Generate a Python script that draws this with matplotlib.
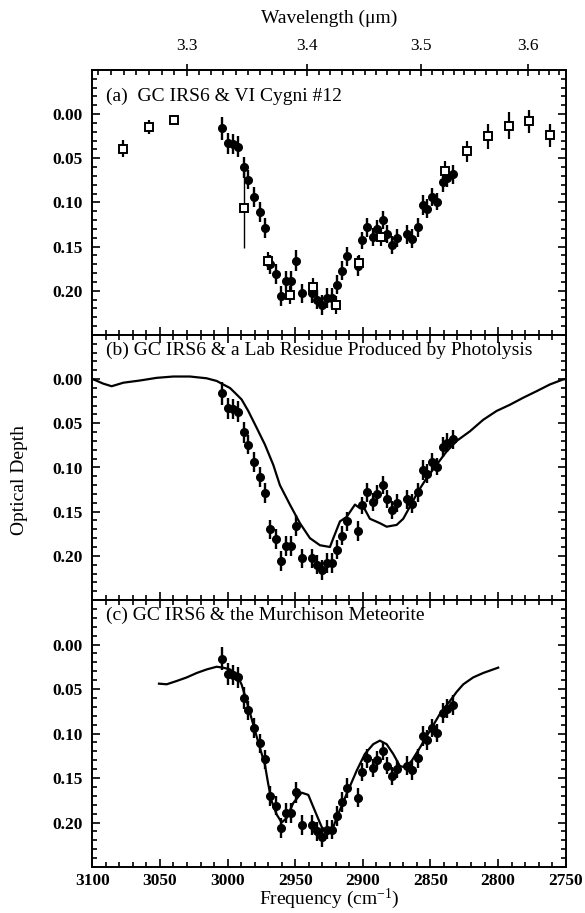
import numpy as np
import matplotlib
matplotlib.use("Agg")
import matplotlib.pyplot as plt
from matplotlib.ticker import MultipleLocator, NullFormatter

plt.rcParams['font.family'] = ['Liberation Serif', 'DejaVu Serif']
plt.rcParams['mathtext.fontset'] = 'custom'
plt.rcParams['mathtext.rm'] = 'Liberation Serif'
plt.rcParams['mathtext.it'] = 'Liberation Serif:italic'

# ---------------- data ----------------
# GC IRS6 (filled circles), frequency in cm^-1, optical depth
gc_freq = [3003.9, 2999.9, 2996.0, 2992.1, 2988.1, 2984.7, 2980.3, 2976.3, 2972.4,
           2968.4, 2964.5, 2960.5, 2957.1, 2953.1, 2949.7, 2945.2, 2937.8, 2934.1,
           2930.5, 2926.7, 2923.0, 2919.4, 2915.5, 2911.5, 2903.6, 2900.7, 2896.7,
           2892.8, 2889.4, 2885.4, 2882.0, 2878.3, 2874.6, 2867.2, 2863.5, 2859.5,
           2855.8, 2852.8, 2848.9, 2845.0, 2841.0, 2837.6, 2833.6]
gc_tau = [0.016, 0.033, 0.034, 0.037, 0.060, 0.074, 0.094, 0.111, 0.129,
          0.170, 0.181, 0.206, 0.189, 0.189, 0.166, 0.203, 0.203, 0.210,
          0.216, 0.208, 0.208, 0.193, 0.177, 0.161, 0.172, 0.143, 0.128,
          0.139, 0.130, 0.120, 0.136, 0.148, 0.140, 0.136, 0.141, 0.128,
          0.103, 0.107, 0.094, 0.099, 0.077, 0.072, 0.068]
gc_err = [0.013, 0.012, 0.011, 0.012, 0.012, 0.011, 0.011, 0.011, 0.011,
          0.011, 0.011, 0.011, 0.011, 0.011, 0.012, 0.011, 0.011, 0.011,
          0.011, 0.011, 0.011, 0.011, 0.011, 0.011, 0.011, 0.010, 0.011,
          0.010, 0.010, 0.010, 0.010, 0.010, 0.010, 0.011, 0.011, 0.011,
          0.011, 0.011, 0.010, 0.010, 0.011, 0.011, 0.011]

# VI Cygni #12 (open squares)
cyg_freq = [3077.1, 3058.1, 3039.6, 2987.7, 2970.4, 2953.9, 2936.7, 2919.6,
            2902.9, 2886.9, 2839.3, 2823.3, 2807.3, 2791.8, 2777.0, 2761.7]
cyg_tau = [0.039, 0.015, 0.0065, 0.106, 0.166, 0.2045, 0.196, 0.216,
           0.168, 0.139, 0.064, 0.042, 0.025, 0.013, 0.008, 0.024]
cyg_err = [0.010, 0.008, 0.005, 0.046, 0.010, 0.010, 0.010, 0.010,
           0.009, 0.010, 0.011, 0.012, 0.014, 0.015, 0.013, 0.013]

# Lab residue produced by photolysis (panel b line)
lab_freq = [3100, 3098, 3092, 3085.7, 3077, 3064.7, 3052.4, 3040.1, 3027.8, 3015.5,
            3008.1, 3003.2, 2998.2, 2994.5, 2989.6, 2984.7, 2978.5, 2972.4, 2966.2,
            2961.3, 2953.9, 2946.5, 2939.1, 2931.7, 2924.3, 2921.8, 2916.9, 2912.0,
            2905.8, 2902.2, 2899.7, 2894.8, 2887.4, 2882.4, 2875.0, 2870.1, 2864.0,
            2859.1, 2852.8, 2845.5, 2838.1, 2830.7, 2820.8, 2811.0, 2801.1, 2791.3,
            2781.4, 2771.5, 2761.7, 2751.9, 2750]
lab_tau = [0.000, 0.001, 0.005, 0.008, 0.004, 0.0015, -0.0015, -0.003, -0.003, -0.001,
           0.002, 0.006, 0.010, 0.0155, 0.023, 0.036, 0.055, 0.074, 0.097,
           0.120, 0.142, 0.163, 0.180, 0.188, 0.190, 0.180, 0.161, 0.156,
           0.142, 0.146, 0.144, 0.158, 0.163, 0.167, 0.165, 0.158, 0.141,
           0.127, 0.112, 0.097, 0.082, 0.070, 0.059, 0.046, 0.036, 0.029,
           0.021, 0.0136, 0.006, 0.0003, 0.000]

# Murchison meteorite (panel c line)
mur_freq = [3050.7, 3045.0, 3037.6, 3030.2, 3022.8, 3015.4, 3008.1, 3003.2, 2998.2,
            2993.3, 2989.6, 2985.9, 2981.0, 2976.1, 2972.4, 2969.9, 2967.4, 2963.7,
            2960.0, 2956.3, 2951.4, 2945.2, 2940.3, 2935.4, 2930.4, 2926.0, 2921.8,
            2919.4, 2912.0, 2904.6, 2898.5, 2892.3, 2887.4, 2882.4, 2877.5, 2872.6,
            2868.9, 2864.0, 2857.8, 2850.4, 2843.0, 2835.6, 2830.5, 2825.7, 2818.4,
            2811.0, 2803.6, 2799.9]
mur_tau = [0.044, 0.0447, 0.041, 0.037, 0.032, 0.028, 0.025, 0.026, 0.028,
           0.0335, 0.045, 0.0635, 0.090, 0.116, 0.135, 0.157, 0.176, 0.191,
           0.200, 0.195, 0.178, 0.1665, 0.169, 0.187, 0.205, 0.212, 0.205,
           0.195, 0.168, 0.142, 0.123, 0.112, 0.108, 0.112, 0.123, 0.1365,
           0.138, 0.131, 0.116, 0.097, 0.078, 0.0635, 0.053, 0.0447, 0.037,
           0.032, 0.028, 0.026]

titles = ["(a)  GC IRS6 & VI Cygni #12",
          "(b) GC IRS6 & a Lab Residue Produced by Photolysis",
          "(c) GC IRS6 & the Murchison Meteorite"]
x_ticks = [3100, 3050, 3000, 2950, 2900, 2850, 2800, 2750]
y_ticks = [0.00, 0.05, 0.10, 0.15, 0.20]
wl_ticks = [3.3, 3.4, 3.5, 3.6]

# ---------------- figure ----------------
fig = plt.figure(figsize=(5.85, 9.13), dpi=100)
left, width = 92.3 / 585, 473.4 / 585
H = 913.0
boxes = [(70, 335), (335, 600), (600, 867)]
axes = []
for (top, bot) in boxes:
    ax = fig.add_axes([left, 1 - bot / H, width, (bot - top) / H])
    axes.append(ax)

for i, ax in enumerate(axes):
    ax.set_xlim(3100, 2750)
    ax.set_ylim(0.25, -0.05)
    ax.set_xticks(x_ticks)
    ax.xaxis.set_minor_locator(MultipleLocator(10))
    ax.set_yticks(y_ticks)
    ax.set_yticklabels(["%.2f" % v for v in y_ticks], fontweight='bold', fontsize=12.5)
    ax.yaxis.set_minor_locator(MultipleLocator(0.01))
    for s in ax.spines.values():
        s.set_linewidth(1.4)
    ax.tick_params(which='both', direction='in', top=(i != 0), bottom=True,
                   left=True, right=True, width=1.2)
    ax.tick_params(which='major', length=6)
    ax.tick_params(which='minor', length=3.5)
    ax.tick_params(axis='y', pad=7)
    if i < 2:
        ax.tick_params(labelbottom=False)
    else:
        ax.set_xticklabels([str(v) for v in x_ticks], fontweight='bold', fontsize=12.5)
        ax.tick_params(axis='x', pad=4)
    ax.text(0.029, 0.90 if i == 0 else 0.943, titles[i], transform=ax.transAxes,
            fontsize=14, va='center', ha='left')

    ax.errorbar(gc_freq, gc_tau, yerr=gc_err, fmt='o', color='black',
                ms=5.5, elinewidth=1.7, capsize=0, zorder=4)

# panel a squares
ax = axes[0]
eb = ax.errorbar(cyg_freq, cyg_tau, yerr=cyg_err, fmt='s', mfc='white', mec='black',
                 ecolor='black', ms=6.3, mew=1.4, elinewidth=1.6, capsize=0, zorder=5)
lw = [1.0 if e > 0.03 else 1.6 for e in cyg_err]
eb[2][0].set_linewidth(lw)

# panel b line
axes[1].plot(lab_freq, lab_tau, color='black', lw=1.6, zorder=3)
# panel c line
axes[2].plot(mur_freq, mur_tau, color='black', lw=1.6, zorder=3)

# wavelength axis on top of panel a
def f2w(f):
    f = np.asarray(f, dtype=float)
    with np.errstate(divide='ignore', invalid='ignore'):
        return 1e4 / f

sec = axes[0].secondary_xaxis('top', functions=(f2w, f2w))
sec.set_xticks(wl_ticks)
sec.set_xticklabels([str(v) for v in wl_ticks], fontsize=12.5)
sec.xaxis.set_minor_locator(MultipleLocator(0.01))
sec.xaxis.set_minor_formatter(NullFormatter())
sec.tick_params(which='major', direction='inout', length=9, width=1.2, pad=7)
sec.tick_params(which='minor', direction='in', length=3.5, width=1.2)
sec.spines['top'].set_linewidth(1.4)

fig.text(329 / 585, 1 - 18 / H, "Wavelength (\u03bcm)", ha='center', va='center', fontsize=14)
fig.text(329 / 585, 1 - 899 / H, "Frequency (cm$^{-1}$)", ha='center', va='center', fontsize=14)
fig.text(20 / 585, 1 - 480 / H, "Optical Depth", ha='center', va='center',
         rotation=90, fontsize=14)

fig.savefig("out.png", dpi=100)
